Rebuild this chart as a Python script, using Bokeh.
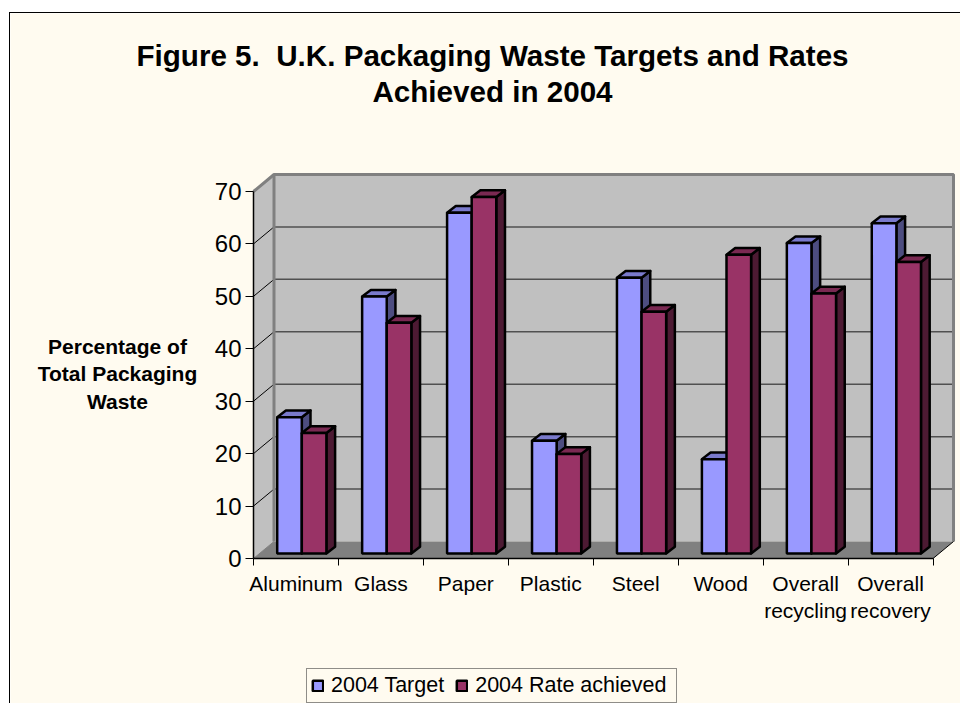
from bokeh.plotting import figure
from bokeh.models import (ColumnDataSource, FixedTicker, Label, Legend, LegendItem,
                          Range1d, LinearAxis)
from bokeh.embed import file_html
from bokeh.resources import INLINE

categories = ["Aluminum", "Glass", "Paper", "Plastic", "Steel", "Wood", "Overall\nrecycling", "Overall\nrecovery"]
target = [26, 49, 65, 21.5, 52.6, 18, 59.2, 63]
rate = [23, 44, 68, 19, 46.1, 57, 49.6, 55.6]
y_ticks = [0, 10, 20, 30, 40, 50, 60, 70]
title_text = "Figure 5.\u00a0 U.K. Packaging Waste Targets and Rates\nAchieved in 2004"
y_title = "Percentage of\nTotal Packaging\nWaste"
series_names = ["2004 Target", "2004 Rate achieved\u00a0"]

FONT = "Liberation Sans"
CREAM = "#FFFBF0"
OX, OY = 10, 13              # page position of the canvas
W, H = 961 - OX, 704 - OY
X0_PX, Y0_PX = 253, 558      # page position of the data origin
UX, UY = 84.94, 5.243        # px per category, px per percent
n = len(categories)

def sx(px):
    return (px - X0_PX) / UX

def sy(py):
    return (Y0_PX - py) / UY

wall_dx, wall_dy = 20.5 / UX, 17 / UY
bar_dx, bar_dy = 8.7 / UX, 6.7 / UY
bar_off, bar_w = 23.7 / UX, 24.6 / UX
bar_base = 5 / UY
y_top = max(y_ticks)

p = figure(width=W, height=H, output_backend="svg", toolbar_location=None, tools="",
           x_axis_location=None, y_axis_location=None,
           x_range=Range1d(sx(OX), sx(OX + W)), y_range=Range1d(sy(OY + H), sy(OY)),
           min_border=0, min_border_left=0, min_border_right=0, min_border_top=0, min_border_bottom=0,
           background_fill_color=CREAM, border_fill_color=CREAM, outline_line_color=None,
           margin=(12, 0, 0, 9),
           styles={"border-top": "1px solid black", "border-left": "1px solid black"})
p.grid.visible = False

# walls and floor
p.patch([0, wall_dx, wall_dx, 0], [0, wall_dy, y_top + wall_dy, y_top], fill_color="#C0C0C0", line_color=None)
p.patch([wall_dx, n + wall_dx, n + wall_dx, wall_dx], [wall_dy, wall_dy, y_top + wall_dy, y_top + wall_dy],
        fill_color="#C0C0C0", line_color=None)
p.patch([0, n, n + wall_dx, wall_dx], [0, 0, wall_dy, wall_dy], fill_color="#808080", line_color=None)

# grid lines: slanted part on side wall, straight part on the back wall
inner = [t for t in y_ticks if 0 < t < y_top]
p.multi_line([[0, wall_dx] for _ in inner], [[t, t + wall_dy] for t in inner], line_color="black", line_width=1)
p.multi_line([[wall_dx, n + wall_dx] for _ in inner], [[t + wall_dy, t + wall_dy] for t in inner],
             line_color="#505050", line_width=1.5)
# wall edges
p.line([0, wall_dx, n + wall_dx, n + wall_dx],
       [y_top, y_top + wall_dy, y_top + wall_dy, wall_dy], line_color="#808080", line_width=3)
p.line([wall_dx, wall_dx], [wall_dy, y_top + wall_dy], line_color="#808080", line_width=3)
p.line([0, wall_dx], [0, wall_dy], line_color="#808080", line_width=1)
p.line([n, n + wall_dx], [0, wall_dy], line_color="black", line_width=1)

# bars
BAR_LINE = 2.5
def draw_series(values, s, front, top, side):
    left = [i + bar_off + s * bar_w for i in range(n)]
    right = [l + bar_w for l in left]
    tops = [bar_base + v for v in values]
    base = [bar_base] * n
    src = ColumnDataSource(dict(left=left, right=right, top=tops, bottom=base))
    p.patches([[r, r + bar_dx, r + bar_dx, r] for r in right],
              [[bar_base, bar_base + bar_dy, t + bar_dy, t] for t in tops],
              fill_color=side, line_color="black", line_width=BAR_LINE, line_join="round")
    p.patches([[l, l + bar_dx, r + bar_dx, r] for l, r in zip(left, right)],
              [[t, t + bar_dy, t + bar_dy, t] for t in tops],
              fill_color=top, line_color="black", line_width=BAR_LINE, line_join="round")
    return p.quad(left="left", right="right", top="top", bottom="bottom", source=src,
                  fill_color=front, line_color="black", line_width=BAR_LINE)

r1 = draw_series(target, 0, "#9999FF", "#7A7ACC", "#4D4D80")
r2 = draw_series(rate, 1, "#993366", "#7A2952", "#4D1A33")

# axes
yaxis = LinearAxis(ticker=FixedTicker(ticks=y_ticks), bounds=(0, y_top), fixed_location=0,
                   major_label_text_font=FONT, major_label_text_font_size="24px",
                   major_label_text_color="black", axis_line_color="black", axis_line_width=1.5,
                   major_tick_line_color="black", major_tick_in=0, major_tick_out=8,
                   minor_tick_line_color=None, major_label_standoff=4)
p.add_layout(yaxis, "left")

mids = [i + 0.5 for i in range(n)]
xaxis = LinearAxis(ticker=FixedTicker(ticks=mids, minor_ticks=list(range(n + 1))), bounds=(0, n), fixed_location=0,
                   major_label_overrides={m: c for m, c in zip(mids, categories)},
                   major_label_text_font=FONT, major_label_text_font_size="21px",
                   major_label_text_color="black", axis_line_color="black", axis_line_width=1.5,
                   major_tick_line_color=None, major_tick_in=0, major_tick_out=0,
                   minor_tick_line_color="black", minor_tick_in=0, minor_tick_out=7,
                   major_label_standoff=6)
p.add_layout(xaxis, "below")

# texts
p.add_layout(Label(x=sx(492), y=sy(38), text=title_text, text_font=FONT, text_font_size="29.6px",
                   text_font_style="bold", text_align="center", text_baseline="top",
                   text_line_height=1.116, text_color="black"))
p.add_layout(Label(x=sx(117), y=sy(334), text=y_title, text_font=FONT, text_font_size="21px",
                   text_font_style="bold", text_align="center", text_baseline="top",
                   text_line_height=1.2, text_color="black"))

legend = Legend(items=[LegendItem(label=series_names[0], renderers=[r1]),
                       LegendItem(label=series_names[1], renderers=[r2])],
                orientation="horizontal", location=(306 - OX, 1),
                label_text_font=FONT, label_text_font_size="21.5px", label_text_color="black",
                glyph_width=13, glyph_height=13, label_standoff=7, spacing=11,
                padding=4, margin=0, background_fill_color=CREAM, background_fill_alpha=1,
                border_line_color="#202020", border_line_width=1)
p.add_layout(legend, "center")

open("out.html", "w").write(file_html(p, INLINE))
